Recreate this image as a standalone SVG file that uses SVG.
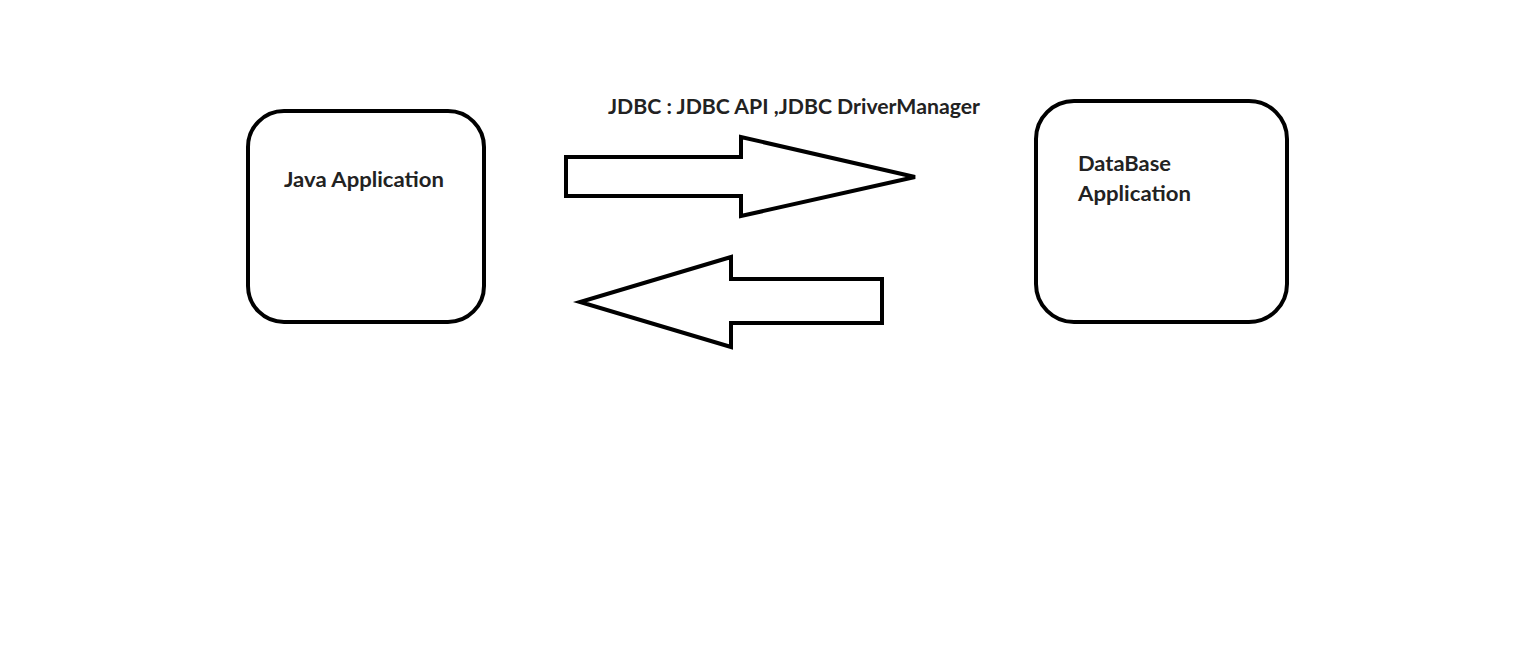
<svg xmlns="http://www.w3.org/2000/svg" width="1539" height="648" viewBox="0 0 1539 648">
<style>
.box{fill:#fff;stroke:#000;stroke-width:4}
.arr{fill:#fff;stroke:#000;stroke-width:4;stroke-linejoin:miter}
.t{font-family:Lato,"Open Sans","Liberation Sans",sans-serif;font-weight:bold;font-size:20px;fill:#222}
</style>
<rect width="1539" height="648" fill="#fff"/>
<g id="java">
<rect class="box" x="248" y="111" width="236" height="211" rx="36" ry="36"/>
<text class="t" x="284" y="187" textLength="160" lengthAdjust="spacingAndGlyphs">Java Application</text>
</g>
<g id="db">
<rect class="box" x="1036" y="101" width="251" height="221" rx="38" ry="38"/>
<text class="t" x="1078" y="171" textLength="93" lengthAdjust="spacingAndGlyphs">DataBase</text>
<text class="t" x="1078" y="201" textLength="113" lengthAdjust="spacingAndGlyphs">Application</text>
</g>
<g id="connectors">
<path class="arr" d="M566,157 L741,157 L741,137 L915,177 L741,216 L741,196 L566,196 Z"/>
<path class="arr" d="M882,279 L731,279 L731,257 L580,302 L731,347 L731,323 L882,323 Z"/>
<text class="t" x="608" y="114" textLength="372" lengthAdjust="spacingAndGlyphs">JDBC : JDBC API ,JDBC DriverManager</text>
</g>
</svg>
